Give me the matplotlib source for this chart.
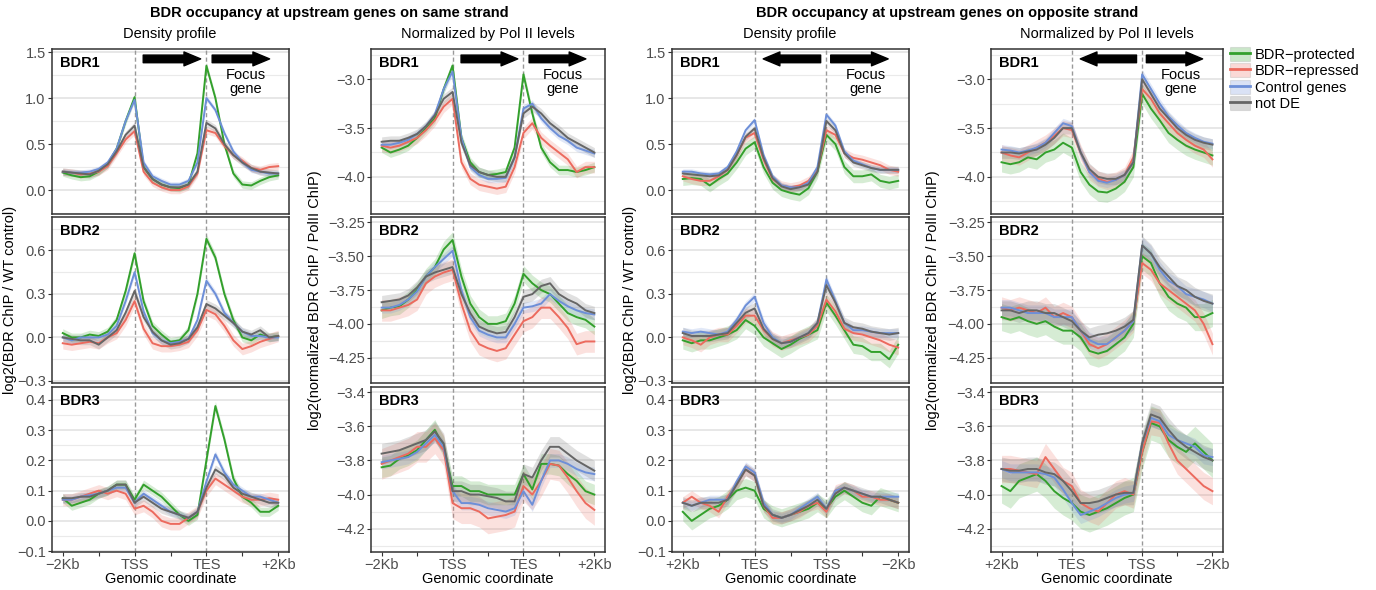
import matplotlib.pyplot as plt
from matplotlib.lines import Line2D
from matplotlib.patches import Patch

plt.rcParams['font.family'] = ['Liberation Sans', 'DejaVu Sans']

# x grid: 0 = -2Kb, 1 = TSS/TES, 2 = TES/TSS, 3 = +2Kb (gene body scaled)
x_pos = [0.0, 0.125, 0.25, 0.375, 0.5, 0.625, 0.75, 0.875, 1.0, 1.125, 1.25, 1.375,
         1.5, 1.625, 1.75, 1.875, 2.0, 2.125, 2.25, 2.375, 2.5, 2.625, 2.75, 2.875, 3.0]

groups = ['BDR\u2212protected', 'BDR\u2212repressed', 'Control genes', 'not DE']
colors = ['#33a02c', '#ec6a5e', '#6d8fd8', '#666666']

# ---- same strand, density profile ----
sd1_prot = [0.19, 0.16, 0.14, 0.15, 0.20, 0.28, 0.45, 0.75, 1.01, 0.25, 0.12, 0.06, 0.03, 0.02, 0.06, 0.40, 1.35, 1.00, 0.50, 0.18, 0.06, 0.05, 0.10, 0.14, 0.16]
sd1_rep = [0.20, 0.19, 0.17, 0.18, 0.20, 0.26, 0.40, 0.55, 0.64, 0.20, 0.08, 0.03, 0.00, 0.00, 0.04, 0.18, 0.65, 0.62, 0.48, 0.38, 0.32, 0.24, 0.22, 0.25, 0.26]
sd1_ctrl = [0.20, 0.19, 0.19, 0.20, 0.23, 0.30, 0.45, 0.75, 0.98, 0.30, 0.15, 0.10, 0.06, 0.06, 0.10, 0.30, 1.00, 0.87, 0.62, 0.42, 0.30, 0.22, 0.20, 0.18, 0.18]
sd1_nde = [0.20, 0.19, 0.18, 0.17, 0.21, 0.28, 0.42, 0.60, 0.70, 0.25, 0.12, 0.06, 0.03, 0.03, 0.06, 0.20, 0.73, 0.67, 0.50, 0.38, 0.30, 0.24, 0.20, 0.19, 0.18]
sd1_band = [0.04, 0.04, 0.03, 0.04]

sd2_prot = [0.03, 0.00, 0.00, 0.02, 0.01, 0.04, 0.12, 0.32, 0.58, 0.25, 0.08, 0.02, -0.03, -0.02, 0.05, 0.30, 0.68, 0.55, 0.30, 0.12, 0.00, -0.02, 0.02, 0.00, 0.01]
sd2_rep = [-0.04, -0.05, -0.04, -0.03, -0.04, 0.00, 0.03, 0.12, 0.25, 0.06, -0.04, -0.06, -0.06, -0.05, -0.03, 0.05, 0.19, 0.16, 0.08, -0.02, -0.08, -0.06, -0.03, -0.01, 0.01]
sd2_ctrl = [0.00, -0.02, 0.00, 0.00, 0.00, 0.02, 0.08, 0.25, 0.45, 0.18, 0.03, -0.02, -0.04, -0.03, -0.01, 0.12, 0.39, 0.30, 0.17, 0.10, 0.04, 0.01, 0.01, 0.00, 0.00]
sd2_nde = [0.00, -0.01, -0.02, -0.02, -0.05, 0.00, 0.05, 0.17, 0.32, 0.14, 0.04, -0.02, -0.05, -0.04, -0.01, 0.07, 0.23, 0.20, 0.15, 0.10, 0.04, 0.02, 0.05, 0.00, 0.01]
sd2_band = [0.03, 0.04, 0.025, 0.03]

sd3_prot = [0.075, 0.05, 0.06, 0.07, 0.09, 0.10, 0.12, 0.12, 0.07, 0.12, 0.10, 0.08, 0.05, 0.02, 0.00, 0.02, 0.20, 0.38, 0.27, 0.14, 0.08, 0.06, 0.03, 0.03, 0.05]
sd3_rep = [0.07, 0.07, 0.08, 0.09, 0.10, 0.09, 0.10, 0.09, 0.04, 0.05, 0.03, 0.00, -0.01, -0.01, 0.01, 0.03, 0.10, 0.14, 0.12, 0.10, 0.08, 0.07, 0.07, 0.075, 0.07]
sd3_ctrl = [0.07, 0.07, 0.08, 0.085, 0.09, 0.10, 0.11, 0.11, 0.06, 0.09, 0.07, 0.05, 0.03, 0.02, 0.01, 0.03, 0.13, 0.22, 0.16, 0.12, 0.10, 0.08, 0.08, 0.07, 0.06]
sd3_nde = [0.075, 0.075, 0.08, 0.08, 0.09, 0.10, 0.12, 0.12, 0.06, 0.08, 0.06, 0.04, 0.03, 0.02, 0.01, 0.03, 0.11, 0.17, 0.15, 0.11, 0.09, 0.08, 0.07, 0.06, 0.06]
sd3_band = [0.015, 0.02, 0.012, 0.015]

# ---- same strand, normalized by Pol II ----
sn1_prot = [-3.70, -3.75, -3.72, -3.68, -3.60, -3.50, -3.40, -3.10, -2.86, -3.60, -3.85, -3.95, -3.98, -3.97, -3.95, -3.70, -2.95, -3.35, -3.70, -3.85, -3.93, -3.93, -3.95, -3.93, -3.90]
sn1_rep = [-3.68, -3.70, -3.68, -3.64, -3.60, -3.52, -3.42, -3.28, -3.20, -3.85, -4.02, -4.08, -4.10, -4.12, -4.10, -3.90, -3.55, -3.45, -3.60, -3.68, -3.75, -3.82, -3.95, -3.90, -3.90]
sn1_ctrl = [-3.67, -3.67, -3.65, -3.62, -3.56, -3.48, -3.36, -3.10, -2.92, -3.60, -3.90, -3.98, -4.02, -4.02, -4.01, -3.80, -3.30, -3.25, -3.40, -3.50, -3.58, -3.63, -3.70, -3.73, -3.76]
sn1_nde = [-3.64, -3.63, -3.63, -3.60, -3.56, -3.48, -3.37, -3.20, -3.13, -3.65, -3.88, -3.95, -3.98, -4.00, -4.00, -3.80, -3.35, -3.28, -3.35, -3.45, -3.52, -3.60, -3.65, -3.70, -3.75]
sn1_band = [0.05, 0.06, 0.04, 0.05]

sn2_prot = [-3.90, -3.88, -3.87, -3.82, -3.75, -3.65, -3.58, -3.45, -3.38, -3.65, -3.85, -3.95, -4.00, -4.00, -3.98, -3.85, -3.63, -3.70, -3.75, -3.78, -3.85, -3.92, -3.95, -3.97, -4.02]
sn2_rep = [-3.90, -3.90, -3.88, -3.86, -3.82, -3.70, -3.65, -3.62, -3.60, -3.85, -4.05, -4.15, -4.18, -4.20, -4.18, -4.08, -3.98, -3.95, -3.88, -3.88, -3.95, -4.03, -4.15, -4.13, -4.13]
sn2_ctrl = [-3.88, -3.88, -3.86, -3.82, -3.76, -3.65, -3.58, -3.52, -3.46, -3.75, -3.95, -4.05, -4.08, -4.10, -4.10, -4.00, -3.88, -3.87, -3.85, -3.78, -3.83, -3.87, -3.90, -3.92, -3.93]
sn2_nde = [-3.84, -3.83, -3.82, -3.79, -3.73, -3.65, -3.62, -3.60, -3.58, -3.78, -3.92, -4.02, -4.05, -4.07, -4.06, -3.95, -3.80, -3.78, -3.72, -3.70, -3.78, -3.82, -3.85, -3.90, -3.92]
sn2_band = [0.06, 0.08, 0.04, 0.05]

sn3_prot = [-3.84, -3.83, -3.79, -3.77, -3.74, -3.68, -3.62, -3.72, -3.95, -3.95, -3.98, -3.98, -4.00, -4.00, -4.00, -4.00, -3.88, -3.97, -3.82, -3.82, -3.83, -3.88, -3.92, -3.98, -4.00]
sn3_rep = [-3.82, -3.80, -3.78, -3.76, -3.72, -3.72, -3.67, -3.74, -4.05, -4.08, -4.08, -4.10, -4.14, -4.13, -4.12, -4.10, -3.95, -4.00, -3.92, -3.82, -3.83, -3.90, -3.98, -4.05, -4.09]
sn3_ctrl = [-3.81, -3.80, -3.79, -3.78, -3.75, -3.70, -3.65, -3.72, -3.98, -4.05, -4.05, -4.06, -4.08, -4.09, -4.10, -4.08, -3.98, -4.06, -3.92, -3.80, -3.80, -3.82, -3.85, -3.87, -3.88]
sn3_nde = [-3.76, -3.75, -3.74, -3.72, -3.70, -3.68, -3.63, -3.70, -3.98, -3.98, -4.00, -4.00, -4.01, -4.02, -4.04, -4.04, -3.88, -3.90, -3.80, -3.72, -3.72, -3.76, -3.80, -3.83, -3.86]
sn3_band = [0.06, 0.09, 0.04, 0.06]

# ---- opposite strand, density profile ----
od1_prot = [0.12, 0.13, 0.12, 0.05, 0.12, 0.18, 0.30, 0.45, 0.52, 0.25, 0.08, 0.00, -0.03, -0.05, 0.02, 0.20, 0.60, 0.50, 0.25, 0.15, 0.15, 0.17, 0.10, 0.08, 0.10]
od1_rep = [0.15, 0.12, 0.10, 0.10, 0.15, 0.22, 0.38, 0.57, 0.62, 0.33, 0.12, 0.05, 0.03, 0.05, 0.10, 0.22, 0.65, 0.60, 0.40, 0.35, 0.33, 0.30, 0.27, 0.22, 0.20]
od1_ctrl = [0.20, 0.20, 0.18, 0.17, 0.18, 0.25, 0.42, 0.65, 0.76, 0.38, 0.15, 0.05, 0.03, 0.03, 0.08, 0.25, 0.82, 0.70, 0.42, 0.32, 0.28, 0.24, 0.22, 0.22, 0.22]
od1_nde = [0.18, 0.17, 0.16, 0.15, 0.16, 0.22, 0.38, 0.58, 0.67, 0.35, 0.13, 0.04, 0.01, 0.03, 0.06, 0.20, 0.75, 0.65, 0.40, 0.30, 0.27, 0.24, 0.22, 0.22, 0.22]
od1_band = [0.07, 0.05, 0.03, 0.04]

od2_prot = [-0.02, -0.04, -0.02, -0.02, 0.00, 0.02, 0.05, 0.12, 0.08, 0.00, -0.04, -0.08, -0.05, -0.01, 0.02, 0.05, 0.24, 0.15, 0.05, -0.05, -0.06, -0.10, -0.10, -0.15, -0.05]
od2_rep = [0.00, -0.02, -0.05, 0.00, 0.02, 0.02, 0.08, 0.15, 0.15, 0.05, -0.01, -0.04, -0.02, 0.00, 0.02, 0.08, 0.26, 0.18, 0.06, 0.03, 0.02, 0.00, -0.02, -0.05, -0.07]
od2_ctrl = [0.04, 0.03, 0.04, 0.03, 0.02, 0.04, 0.12, 0.22, 0.28, 0.10, 0.00, -0.04, -0.03, 0.00, 0.03, 0.10, 0.40, 0.25, 0.10, 0.05, 0.05, 0.04, 0.03, 0.03, 0.03]
od2_nde = [0.03, 0.01, 0.01, 0.01, 0.02, 0.03, 0.10, 0.17, 0.20, 0.06, -0.01, -0.04, -0.03, 0.00, 0.03, 0.10, 0.36, 0.24, 0.10, 0.07, 0.06, 0.04, 0.03, 0.02, 0.03]
od2_band = [0.06, 0.05, 0.03, 0.04]

od3_prot = [0.03, 0.00, 0.02, 0.04, 0.05, 0.07, 0.10, 0.11, 0.10, 0.04, 0.02, 0.01, 0.02, 0.03, 0.04, 0.06, 0.04, 0.08, 0.10, 0.08, 0.06, 0.05, 0.08, 0.07, 0.06]
od3_rep = [0.06, 0.08, 0.06, 0.05, 0.03, 0.08, 0.12, 0.17, 0.15, 0.05, 0.01, 0.01, 0.02, 0.03, 0.05, 0.06, 0.03, 0.10, 0.11, 0.10, 0.08, 0.08, 0.07, 0.07, 0.06]
od3_ctrl = [0.06, 0.05, 0.06, 0.07, 0.07, 0.07, 0.13, 0.18, 0.16, 0.06, 0.02, 0.01, 0.02, 0.04, 0.06, 0.08, 0.04, 0.10, 0.11, 0.10, 0.09, 0.08, 0.08, 0.08, 0.08]
od3_nde = [0.06, 0.05, 0.06, 0.06, 0.06, 0.07, 0.12, 0.17, 0.15, 0.05, 0.02, 0.01, 0.02, 0.035, 0.05, 0.07, 0.04, 0.09, 0.11, 0.10, 0.09, 0.08, 0.08, 0.07, 0.06]
od3_band = [0.03, 0.02, 0.015, 0.02]

# ---- opposite strand, normalized by Pol II ----
on1_prot = [-3.85, -3.87, -3.85, -3.80, -3.82, -3.75, -3.72, -3.65, -3.70, -3.95, -4.08, -4.15, -4.16, -4.12, -4.05, -3.90, -3.15, -3.30, -3.42, -3.55, -3.62, -3.68, -3.72, -3.75, -3.78]
on1_rep = [-3.75, -3.78, -3.80, -3.75, -3.70, -3.65, -3.58, -3.50, -3.52, -3.75, -3.95, -4.02, -4.05, -4.03, -3.98, -3.80, -3.10, -3.20, -3.35, -3.45, -3.55, -3.62, -3.68, -3.72, -3.82]
on1_ctrl = [-3.72, -3.73, -3.75, -3.73, -3.70, -3.65, -3.55, -3.45, -3.48, -3.75, -3.95, -4.04, -4.06, -4.03, -3.98, -3.85, -2.95, -3.10, -3.25, -3.38, -3.47, -3.55, -3.60, -3.64, -3.66]
on1_nde = [-3.75, -3.75, -3.76, -3.74, -3.72, -3.67, -3.60, -3.50, -3.50, -3.75, -3.92, -4.00, -4.02, -4.02, -3.98, -3.85, -3.00, -3.15, -3.30, -3.40, -3.50, -3.57, -3.62, -3.65, -3.67]
on1_band = [0.10, 0.08, 0.05, 0.06]

on2_prot = [-3.95, -3.97, -3.95, -3.98, -4.00, -3.98, -4.02, -4.05, -4.05, -4.10, -4.20, -4.22, -4.20, -4.15, -4.10, -4.00, -3.50, -3.55, -3.70, -3.80, -3.85, -3.88, -3.95, -3.95, -3.92]
on2_rep = [-3.88, -3.90, -3.88, -3.90, -3.92, -3.88, -3.95, -3.92, -3.95, -4.05, -4.15, -4.18, -4.15, -4.10, -4.05, -3.98, -3.55, -3.60, -3.70, -3.75, -3.80, -3.85, -3.90, -4.00, -4.15]
on2_ctrl = [-3.88, -3.88, -3.90, -3.92, -3.92, -3.92, -3.95, -3.95, -3.95, -4.05, -4.12, -4.15, -4.15, -4.10, -4.05, -3.98, -3.42, -3.48, -3.60, -3.68, -3.72, -3.78, -3.80, -3.82, -3.85]
on2_nde = [-3.90, -3.90, -3.92, -3.90, -3.90, -3.92, -3.92, -3.95, -3.98, -4.05, -4.10, -4.08, -4.07, -4.05, -4.02, -3.97, -3.42, -3.48, -3.58, -3.65, -3.72, -3.75, -3.80, -3.83, -3.85]
on2_band = [0.10, 0.08, 0.06, 0.07]

on3_prot = [-3.95, -3.98, -3.92, -3.90, -3.88, -3.92, -3.98, -4.02, -4.05, -4.10, -4.12, -4.10, -4.08, -4.05, -4.02, -4.00, -3.75, -3.58, -3.60, -3.68, -3.72, -3.75, -3.70, -3.75, -3.80]
on3_rep = [-3.85, -3.85, -3.86, -3.87, -3.88, -3.78, -3.85, -3.92, -3.95, -4.05, -4.08, -4.10, -4.05, -4.00, -3.98, -4.00, -3.75, -3.57, -3.58, -3.70, -3.80, -3.85, -3.90, -3.95, -3.98]
on3_ctrl = [-3.85, -3.87, -3.87, -3.87, -3.87, -3.88, -3.90, -3.97, -4.05, -4.12, -4.10, -4.08, -4.05, -4.02, -4.00, -3.99, -3.70, -3.55, -3.57, -3.65, -3.68, -3.70, -3.72, -3.77, -3.78]
on3_nde = [-3.85, -3.86, -3.86, -3.85, -3.85, -3.87, -3.88, -3.92, -3.98, -4.05, -4.05, -4.04, -4.02, -4.00, -3.99, -3.99, -3.70, -3.53, -3.55, -3.62, -3.68, -3.72, -3.75, -3.78, -3.80]
on3_band = [0.10, 0.08, 0.05, 0.07]

xticks_same = ['\u22122Kb', 'TSS', 'TES', '+2Kb']
xticks_opp = ['+2Kb', 'TES', 'TSS', '\u22122Kb']

# y scales per row: (limits, major breaks, minor breaks, decimals)
dens_scales = [((-0.26, 1.533), [0.0, 0.5, 1.0, 1.5], [-0.25, 0.25, 0.75, 1.25], 1),
               ((-0.314, 0.83), [-0.3, 0.0, 0.3, 0.6], [-0.15, 0.15, 0.45, 0.75], 1),
               ((-0.103, 0.443), [-0.1, 0.0, 0.1, 0.2, 0.3, 0.4], [-0.05, 0.05, 0.15, 0.25, 0.35], 1)]
norm_scales = [((-4.38, -2.69), [-4.0, -3.5, -3.0], [-4.25, -3.75, -3.25, -2.75], 1),
               ((-4.437, -3.21), [-4.25, -4.0, -3.75, -3.5, -3.25], [-4.375, -4.125, -3.875, -3.625, -3.375], 2),
               ((-4.337, -3.369), [-4.2, -4.0, -3.8, -3.6, -3.4], [-4.3, -4.1, -3.9, -3.7, -3.5], 1)]

panels = [
    [([sd1_prot, sd1_rep, sd1_ctrl, sd1_nde], sd1_band), ([sn1_prot, sn1_rep, sn1_ctrl, sn1_nde], sn1_band),
     ([od1_prot, od1_rep, od1_ctrl, od1_nde], od1_band), ([on1_prot, on1_rep, on1_ctrl, on1_nde], on1_band)],
    [([sd2_prot, sd2_rep, sd2_ctrl, sd2_nde], sd2_band), ([sn2_prot, sn2_rep, sn2_ctrl, sn2_nde], sn2_band),
     ([od2_prot, od2_rep, od2_ctrl, od2_nde], od2_band), ([on2_prot, on2_rep, on2_ctrl, on2_nde], on2_band)],
    [([sd3_prot, sd3_rep, sd3_ctrl, sd3_nde], sd3_band), ([sn3_prot, sn3_rep, sn3_ctrl, sn3_nde], sn3_band),
     ([od3_prot, od3_rep, od3_ctrl, od3_nde], od3_band), ([on3_prot, on3_rep, on3_ctrl, on3_nde], on3_band)],
]
row_names = ['BDR1', 'BDR2', 'BDR3']

W, H = 1376, 590
fig = plt.figure(figsize=(W / 100, H / 100), dpi=100)

col_px = [(52, 289), (371, 605), (672, 909), (991, 1223)]
row_px = [(49, 214), (217, 383), (387, 552)]

tick_col = '#4d4d4d'
edge_col = '#333333'


def fmt(v, nd):
    return f'{v:.{nd}f}'.replace('-', '\u2212')


for r in range(3):
    for c in range(4):
        left, right = col_px[c]
        top, bottom = row_px[r]
        ax = fig.add_axes([left / W, 1 - bottom / H, (right - left) / W, (bottom - top) / H])
        series, band = panels[r][c]
        ylim, major, minor, nd = (dens_scales if c in (0, 2) else norm_scales)[r]

        for vals, b, col in zip(series, band, colors):
            ax.fill_between(x_pos, [v - b for v in vals], [v + b for v in vals],
                            color=col, alpha=0.2, lw=0, zorder=2)
        for vals, col in zip(series, colors):
            ax.plot(x_pos, vals, color=col, lw=1.4, zorder=3)

        ax.axvline(1, color='#999999', ls=(0, (3, 2)), lw=1.0, zorder=1)
        ax.axvline(2, color='#999999', ls=(0, (3, 2)), lw=1.0, zorder=1)

        ax.set_xlim(-0.15, 3.15)
        ax.set_ylim(*ylim)
        ax.set_yticks(major)
        ax.set_yticklabels([fmt(v, nd) for v in major])
        ax.set_yticks(minor, minor=True)
        ax.grid(axis='y', which='major', color='#e0e0e0', lw=1.1, zorder=0)
        ax.grid(axis='y', which='minor', color='#eaeaea', lw=0.8, zorder=0)
        ax.set_axisbelow(True)
        ax.tick_params(axis='y', which='major', length=3, width=0.8, color=edge_col,
                       labelsize=10.5, labelcolor=tick_col, pad=1.5)
        ax.tick_params(axis='y', which='minor', length=0)

        if r == 2:
            ax.set_xticks([0, 0.5, 1, 1.5, 2, 2.5, 3])
            labs = xticks_same if c < 2 else xticks_opp
            ax.set_xticklabels([labs[0], '', labs[1], '', labs[2], '', labs[3]])
            ax.tick_params(axis='x', length=3, width=0.8, color=edge_col,
                           labelsize=10.5, labelcolor=tick_col, pad=1.5)
            ax.set_xlabel('Genomic coordinate', fontsize=10.5, labelpad=0)
        else:
            ax.set_xticks([])

        for s in ax.spines.values():
            s.set_color(edge_col)
            s.set_linewidth(1.1)

        ax.text(0.035, 0.915, row_names[r], transform=ax.transAxes, fontsize=10.5,
                fontweight='bold', ha='left', va='center', zorder=5)

        if r == 0:
            tr = ax.get_xaxis_transform()
            style = 'simple,head_length=1.2,head_width=1.0,tail_width=0.55'
            if c < 2:
                arrows = [(1.12, 1.92), (2.08, 2.88)]
            else:
                arrows = [(1.92, 1.12), (2.06, 2.86)]
            for a0, a1 in arrows:
                ax.annotate('', xy=(a1, 0.94), xytext=(a0, 0.94), xycoords=tr, textcoords=tr,
                            arrowprops=dict(arrowstyle=style, color='black', shrinkA=0, shrinkB=0,
                                            mutation_scale=10), zorder=6)
            ax.text(2.55, 0.80, 'Focus\ngene', transform=tr, ha='center', va='center',
                    fontsize=10.5, linespacing=0.95, zorder=6)

# titles and labels
fig.text(329 / W, 1 - 13 / H, 'BDR occupancy at upstream genes on same strand',
         ha='center', va='center', fontsize=10.5, fontweight='bold')
fig.text(947 / W, 1 - 13 / H, 'BDR occupancy at upstream genes on opposite strand',
         ha='center', va='center', fontsize=10.5, fontweight='bold')
for cx, t in zip([170, 488, 790, 1107],
                 ['Density profile', 'Normalized by Pol II levels', 'Density profile', 'Normalized by Pol II levels']):
    fig.text(cx / W, 1 - 34 / H, t, ha='center', va='center', fontsize=10.5)

for lx, t in zip([10, 315, 630, 933],
                 ['log2(BDR ChIP / WT control)', 'log2(normalized BDR ChIP / PolII ChIP)',
                  'log2(BDR ChIP / WT control)', 'log2(normalized BDR ChIP / PolII ChIP)']):
    fig.text(lx / W, 1 - 300 / H, t, ha='center', va='center', rotation=90, fontsize=10.5)

handles = [(Patch(facecolor=col, alpha=0.25, edgecolor='#999999', lw=0.8),
            Line2D([], [], color=col, lw=2)) for col in colors]
fig.legend(handles, groups, loc='upper left', bbox_to_anchor=(1230 / W, 1 - 47 / H),
           frameon=False, fontsize=10.5, handlelength=1.4, handleheight=1.1,
           labelspacing=0.1, handletextpad=0.3, borderaxespad=0, borderpad=0)

fig.savefig('out.png', dpi=100)
